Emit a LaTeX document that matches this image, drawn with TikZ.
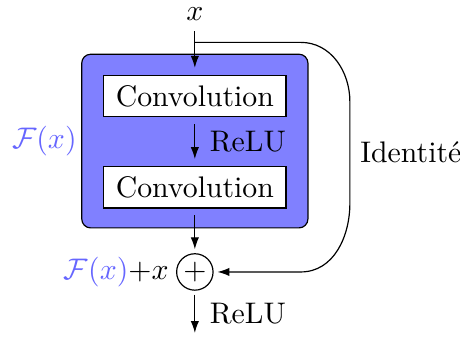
\documentclass[tikz,border=0pt]{standalone}
\usetikzlibrary{arrows.meta,positioning}
\begin{document}
\begin{tikzpicture}[
  conv/.style={draw,fill=white,minimum width=2.15cm,minimum height=0.45cm,outer sep=2.5pt},
  block/.style={draw,fill=blue!50,rounded corners=3pt,minimum width=2.67cm,minimum height=2.05cm},
  somme/.style={draw,circle,minimum size=0.43cm,inner sep=0pt,outer sep=1.5pt},
  arr/.style={-{Latex[length=4pt,width=2.8pt]}}
]
  \useasboundingbox (0,0) rectangle (5.43,-3.97);
  % Bloc residuel
  \node[block] (bloc) at (2.30,-1.665) {};
  \node[left=-2pt of bloc,text=blue!60] (fx) {$\mathcal{F}(x)$};
  % Entree
  \node (x) at (2.30,-0.17) {$x$};
  % Convolutions
  \node[conv] (c1) at (2.30,-1.133) {Convolution};
  \node[conv] (c2) at (2.30,-2.21) {Convolution};
  % Addition
  \node[somme] (plus) at (2.30,-3.21) {$+$};
  \node[left=1pt of plus,inner sep=0pt] (sum) {$\textcolor{blue!60}{\mathcal{F}(x)}{+}x$};
  \coordinate (split) at (2.30,-0.50);
  \coordinate (out) at (2.30,-3.93);
  % Fleches
  \draw[arr] (x) -- (c1);
  \draw[arr] (c1) -- (c2) node[midway,right,xshift=1.5pt]{ReLU};
  \draw[arr] (c2) -- (plus);
  \draw[arr] (plus) -- (out) node[midway,right,xshift=1.5pt]{ReLU};
  \draw[arr] (split) -- (3.55,-0.50) to[out=0,in=90] (4.13,-1.2)
    -- node[right]{Identité} (4.13,-2.4) to[out=-90,in=0] (3.55,-3.21) -- (plus);
\end{tikzpicture}
\end{document}
